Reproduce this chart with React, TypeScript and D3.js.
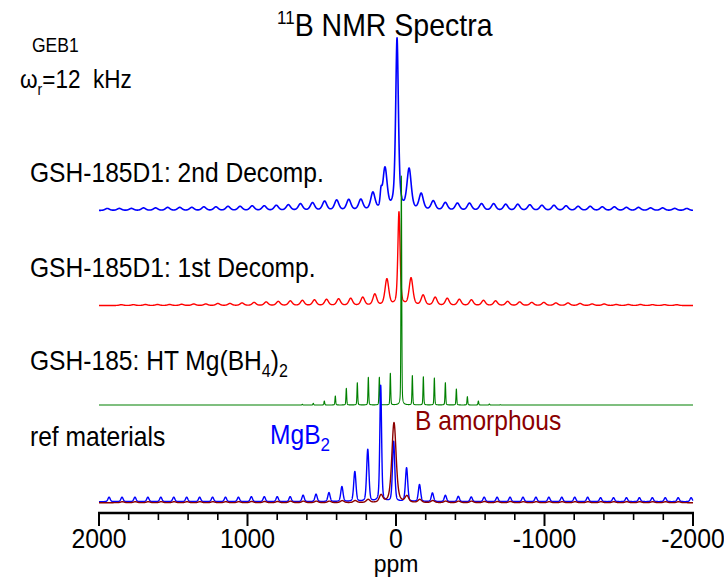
import React from 'react';
import * as d3 from 'd3';

const W = 724;
const H = 579;

// ---------- axis ----------
const ppmDomain = [2000, -2000];
const majorTicks = [2000, 1000, 0, -1000, -2000];
const majorTickLabels = ['2000', '1000', '0', '-1000', '-2000'];
const minorTicks = [1800, 1600, 1400, 1200, 800, 600, 400, 200, -200, -400, -600, -800, -1200, -1400, -1600, -1800];

// ---------- GSH-185D1: 2nd Decomp. (blue) ----------
const d2Center = -7;
const d2Spacing = 81.3;
const d2Main = 171;
const d2Left = [2, 2, 2, 2.5, 2.5, 3, 3, 3, 3.5, 3.5, 4, 4, 4.5, 4.5, 5, 5.5, 6.5, 7.5, 9, 10, 10.5, 10.5, 17, 41];
const d2Right = [40, 16, 9, 7.5, 7, 7, 6.5, 6.5, 6, 6, 5.5, 5, 5, 4.5, 4, 4, 3.5, 3.5, 3, 3, 2.5, 2.5, 2, 2];
const d2ExtraPpm = [101];
const d2ExtraAmp = [13];

// ---------- GSH-185D1: 1st Decomp. (red) ----------
const d1Center = -20;
const d1Spacing = 81.3;
const d1Main = 93;
const d1Left = [0.8, 0.8, 1, 1, 1, 1.2, 1.5, 1.5, 2, 2, 2.5, 3, 3.5, 4, 4.5, 5, 5.5, 6, 6.5, 7, 8, 11, 26];
const d1Right = [27, 10, 8, 7, 6, 5.5, 5, 4.5, 4, 3.5, 3, 3, 2.5, 2.5, 2, 1.5, 1.5, 1, 1, 1, 0.8, 0.8, 0.8];

// ---------- GSH-185: HT Mg(BH4)2 (green) ----------
const htCenter = -36;
const htSpacing = 74.1;
const htMain = 229;
const htLeft = [0.7, 1.7, 4, 9, 16.7, 22.3, 27.7, 27.7, 31.7];
const htRight = [29.3, 28.3, 27, 22.3, 16, 8.3, 4, 1, 0.3];

// ---------- ref: MgB2 (blue) ----------
const mgCenter = 103;
const mgSpacing = 87.1;
const mgMain = 116;
const mgLeft = [4.5, 4.5, 4.5, 4.5, 4.5, 4.5, 4.5, 4.5, 4.5, 4.5, 4.5, 5, 5, 5, 5, 6.5, 7.5, 9, 15, 30, 52];
const mgRight = [60, 33.7, 17, 8.7, 6.3, 5.3, 4.7, 4.5, 4.5, 4.5, 4.5, 4.5, 4.5, 4.5, 4.5, 4.5, 4, 4, 4, 4, 4, 4, 4, 4];

// ---------- ref: B amorphous (dark red) ----------
const baCenter = 13.5;
const baSpacing = 87.1;
const baMain = 80;
const baLeft = [1, 1, 1, 1, 1, 1, 1, 1, 1, 1, 1.2, 1.2, 1.2, 1.5, 1.5, 1.5, 1.5, 2, 2, 3, 7];
const baRight = [6, 3, 2, 1.5, 1.5, 1.5, 1.2, 1.2, 1.2, 1, 1, 1, 1, 1, 1, 1, 1, 1, 1, 1, 1, 1];

type Peak = { ppm: number; amp: number; fwhm: number; eta: number };

function sidebandPeaks(center: number, spacing: number, main: number, left: number[], right: number[],
  mainW: number, sideW: number, mainEta: number, sideEta: number): Peak[] {
  const peaks: Peak[] = [{ ppm: center, amp: main, fwhm: mainW, eta: mainEta }];
  left.forEach((a, i) => {
    const n = left.length - i; // ppm increases to the left
    peaks.push({ ppm: center + n * spacing, amp: a, fwhm: sideW, eta: sideEta });
  });
  right.forEach((a, i) => {
    peaks.push({ ppm: center - (i + 1) * spacing, amp: a, fwhm: sideW, eta: sideEta });
  });
  return peaks;
}

function spectrum(peaks: Peak[]): [number, number][] {
  const pts: [number, number][] = [];
  const LN = 4 * Math.LN2;
  for (let p = 2000; p >= -2000; p -= 0.5) {
    let s = 0;
    for (const pk of peaks) {
      const d = (p - pk.ppm) / pk.fwhm;
      const g = Math.exp(-LN * d * d);
      const l = 1 / (1 + 4 * d * d);
      s += pk.amp * (pk.eta * l + (1 - pk.eta) * g);
    }
    pts.push([p, s]);
  }
  return pts;
}

const FONT = 'Liberation Sans, Arial, Helvetica, sans-serif';
const SY = 1.13;

function T(props: { x: number; y: number; size: number; fill?: string; anchor?: string; sy?: number; children: React.ReactNode }) {
  return (
    <text
      transform={`translate(${props.x},${props.y}) scale(1,${props.sy ?? SY})`}
      fontFamily={FONT}
      fontSize={props.size}
      fill={props.fill || '#000'}
      textAnchor={props.anchor || 'start'}
      style={{ whiteSpace: 'pre' }}
    >
      {props.children}
    </text>
  );
}

export default function App() {
  const x = d3.scaleLinear().domain(ppmDomain).range([99, 693]);
  // stacked intensity scale
  const y = d3.scaleLinear().domain([0, 500]).range([513, 13]);

  const traces = [
    {
      key: 'd2', color: '#0000ff', width: 1.6, offset: 302.5,
      peaks: sidebandPeaks(d2Center, d2Spacing, d2Main, d2Left, d2Right, 22, 34, 0.6, 0.4)
        .concat(d2ExtraPpm.map((p, i) => ({ ppm: p, amp: d2ExtraAmp[i], fwhm: 14, eta: 0.3 }))),
    },
    {
      key: 'd1', color: '#ff0000', width: 1.4, offset: 207.5,
      peaks: sidebandPeaks(d1Center, d1Spacing, d1Main, d1Left, d1Right, 18, 30, 0.5, 0.4),
    },
    {
      key: 'ht', color: '#008000', width: 1.1, offset: 108,
      peaks: sidebandPeaks(htCenter, htSpacing, htMain, htLeft, htRight, 6, 6, 0.3, 0.3),
    },
    {
      key: 'mg', color: '#0000ff', width: 1.4, offset: 11.3,
      peaks: sidebandPeaks(mgCenter, mgSpacing, mgMain, mgLeft, mgRight, 14, 18, 0.4, 0.3),
    },
    {
      key: 'ba', color: '#8b0000', width: 1.4, offset: 10.3,
      peaks: sidebandPeaks(baCenter, baSpacing, baMain, baLeft, baRight, 34, 28, 0.45, 0.3),
    },
  ];

  const line = (offset: number) =>
    d3.line<[number, number]>()
      .x((d) => x(d[0]))
      .y((d) => y(offset + d[1]));

  const axisY = y(0);

  return (
    <svg width={W} height={H} style={{ position: 'absolute', left: 0, top: 0, background: '#fff' }}>
      <rect width={W} height={H} fill="#fff" />
      {traces.map((t) => (
        <path key={t.key} d={line(t.offset)(spectrum(t.peaks)) || ''} fill="none" stroke={t.color}
          strokeWidth={t.width} strokeLinejoin="round" />
      ))}

      {/* axis */}
      <line x1={x(2000) - 1} x2={x(-2000) + 1} y1={axisY} y2={axisY} stroke="#000" strokeWidth={2.6} />
      {majorTicks.map((v) => (
        <line key={'M' + v} x1={x(v)} x2={x(v)} y1={axisY} y2={axisY + 13} stroke="#000" strokeWidth={2} />
      ))}
      {minorTicks.map((v) => (
        <line key={'m' + v} x1={x(v)} x2={x(v)} y1={axisY} y2={axisY + 7} stroke="#000" strokeWidth={1.6} />
      ))}
      {majorTickLabels.map((lab, i) => (
        <T key={'L' + lab} x={x(majorTicks[i])} y={548} size={24.8} anchor="middle">{lab}</T>
      ))}
      <T x={x(0)} y={572} size={23} sy={1.05} anchor="middle">ppm</T>

      {/* titles and labels */}
      <T x={277} y={36} size={28.5}>
        <tspan fontSize={17} dy={-11}>11</tspan>
        <tspan dy={11}>B NMR Spectra</tspan>
      </T>
      <T x={32} y={52} size={17.5}>GEB1</T>
      <T x={20} y={88} size={22.5}>
        <tspan>ω</tspan>
        <tspan fontSize={14} dy={6}>r</tspan>
        <tspan dy={-6}>=12  kHz</tspan>
      </T>
      <T x={30} y={182} size={24.6}>GSH-185D1: 2nd Decomp.</T>
      <T x={30} y={277} size={24.6}>GSH-185D1: 1st Decomp.</T>
      <T x={30} y={370} size={24.6}>
        <tspan>GSH-185: HT Mg(BH</tspan>
        <tspan fontSize={16} dy={6}>4</tspan>
        <tspan dy={-6}>)</tspan>
        <tspan fontSize={16} dy={6}>2</tspan>
      </T>
      <T x={30} y={446} size={24.6}>ref materials</T>
      <T x={270} y={444} size={24.6} fill="#0000ff">
        <tspan>MgB</tspan>
        <tspan fontSize={17} dy={6}>2</tspan>
      </T>
      <T x={415} y={430} size={24.6} fill="#8b0000">B amorphous</T>
    </svg>
  );
}
